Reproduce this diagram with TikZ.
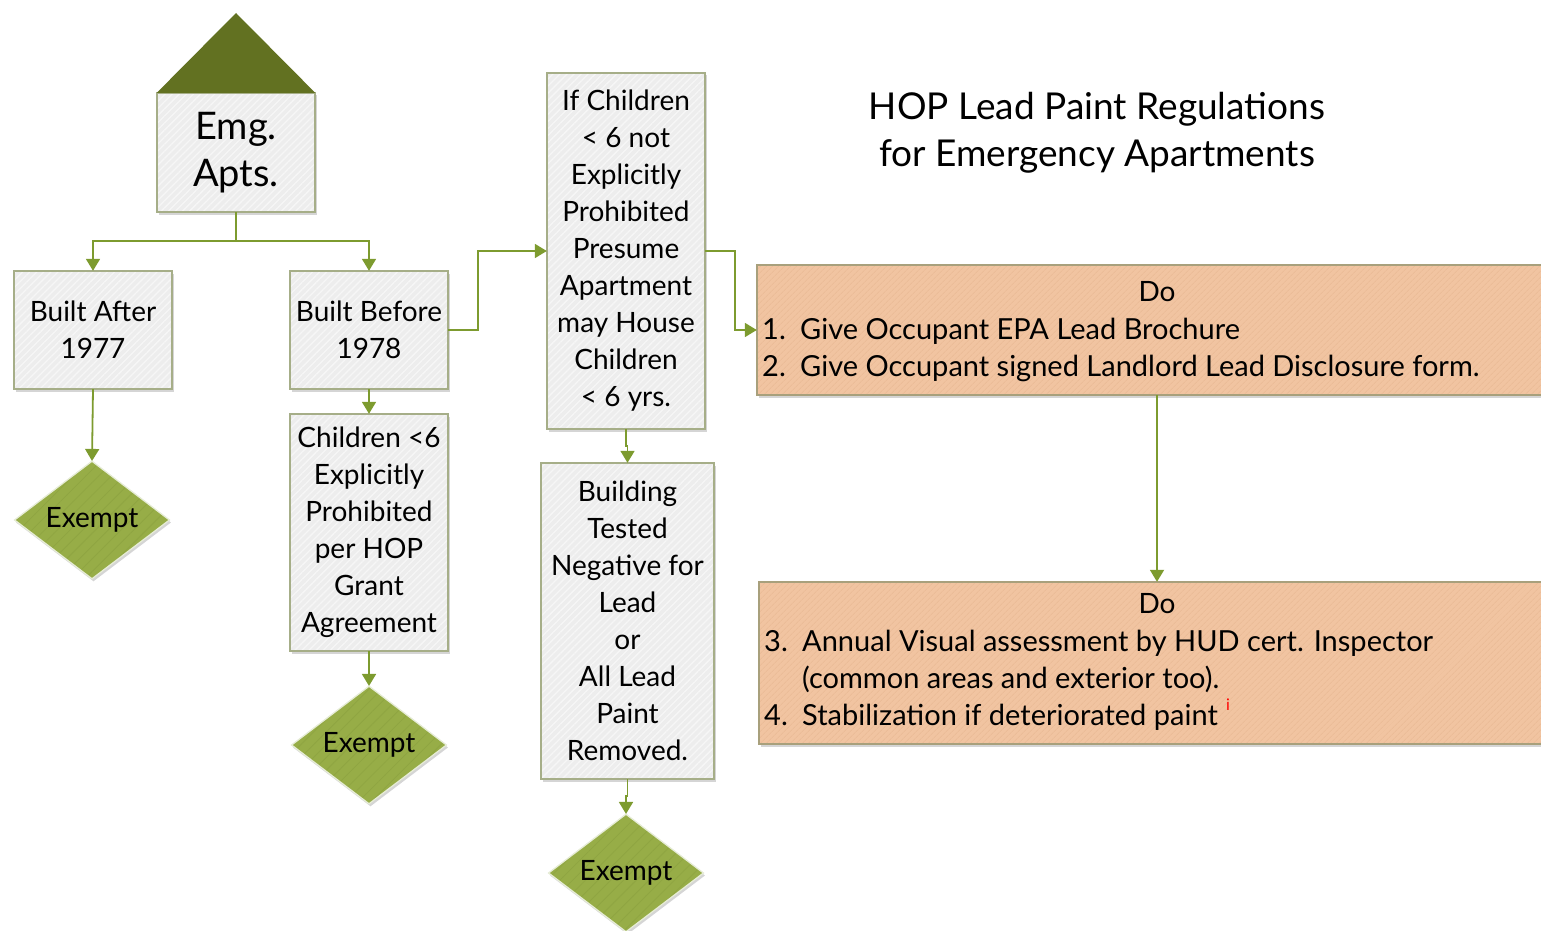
\documentclass[tikz,border=0pt]{standalone}
\usepackage{fontspec}
\setmainfont{Lato}
\usetikzlibrary{shapes.geometric,arrows.meta,shadows,patterns.meta}

\definecolor{roofgreen}{HTML}{627121}
\definecolor{boxgray}{HTML}{EDEDED}
\definecolor{boxstripe}{HTML}{F6F6F6}
\definecolor{boxedge}{HTML}{A6AE88}
\definecolor{linkgreen}{HTML}{7D9B2F}
\definecolor{leafgreen}{HTML}{97AD47}
\definecolor{leafstripe}{HTML}{8FA542}
\definecolor{leafedge}{HTML}{E6ECD6}
\definecolor{peach}{HTML}{F1C4A1}
\definecolor{peachstripe}{HTML}{EBBC98}
\definecolor{peachedge}{HTML}{A8A07C}

\begin{document}
\begin{tikzpicture}[x=1pt,y=-1pt,
  every node/.style={font=\fontsize{28}{37}\selectfont, text=black},
  softshadow/.style={drop shadow={shadow xshift=1.5pt, shadow yshift=-2.5pt, opacity=0.3, fill=black!55}},
  graybox/.style={fill=boxgray, inner sep=0pt, align=center, softshadow,
    postaction={pattern={Lines[angle=45,distance=5pt,line width=1.3pt]}, pattern color=boxstripe},
    postaction={draw=boxedge, line width=1.3pt}},
  dobox/.style={fill=peach, inner sep=0pt, softshadow,
    postaction={pattern={Lines[angle=45,distance=4pt,line width=1pt]}, pattern color=peachstripe},
    postaction={draw=peachedge, line width=1.3pt}},
  exempt/.style={diamond, fill=leafgreen, inner sep=0pt,
    minimum width=155pt, minimum height=116pt, softshadow,
    postaction={pattern={Lines[angle=45,distance=9pt,line width=0.8pt]}, pattern color=leafstripe},
    postaction={draw=leafedge, line width=1.3pt}},
  link/.style={draw=linkgreen, line width=1.8pt, -{Triangle[length=12pt,width=14pt]}, color=linkgreen},
  listtext/.style={anchor=base west, inner sep=0pt, font=\fontsize{29}{37}\selectfont},
]
\useasboundingbox (0,0) rectangle (1541,931);

% start: house-shaped node
\node[graybox, minimum width=158pt, minimum height=119pt, font=\fontsize{38}{47}\selectfont]
  (emg) at (236,152.5) {Emg.\\Apts.};
\fill[roofgreen] (emg.north west) -- (236,13) -- (emg.north east) -- cycle;

% first split
\node[graybox, minimum width=158pt, minimum height=118pt] (after) at (93,330) {Built After\\1977};
\node[graybox, minimum width=158pt, minimum height=118pt] (before) at (369,330) {Built Before\\1978};
\node[graybox, minimum width=158pt, minimum height=237pt] (children) at (369,532.5)
  {Children <6\\Explicitly\\Prohibited\\per HOP\\Grant\\Agreement};
\node[graybox, minimum width=158pt, minimum height=356pt] (ifch) at (626,251)
  {If Children\\< 6 not\\Explicitly\\Prohibited\\Presume\\Apartment\\may House\\Children\\< 6 yrs.};
\node[graybox, minimum width=173pt, minimum height=316pt] (build) at (627.5,621)
  {Building\\Tested\\Negative for\\Lead\\or\\All Lead\\Paint\\Removed.};

% exempt outcomes
\node[exempt] (ex1) at (92,520) {Exempt};
\node[exempt] (ex2) at (369,745) {Exempt};
\node[exempt] (ex3) at (626,873) {Exempt};

% required actions
\node[dobox, minimum width=800pt, minimum height=130pt] (do1) at (1157,330) {};
\node[dobox, minimum width=796pt, minimum height=162pt] (do2) at (1157,663) {};

\node (do1head) at (1157,292) {Do};
\node[listtext] (n1) at (762,339) {1.};
\node[listtext] (t1) at (800,339) {Give Occupant EPA Lead Brochure};
\node[listtext] (n2) at (762,376) {2.};
\node[listtext] (t2) at (800,376) {Give Occupant signed Landlord Lead Disclosure form.};

\node (do2head) at (1157,604) {Do};
\node[listtext] (n3) at (764,651) {3.};
\node[listtext] (t3) at (802,651) {Annual Visual assessment by HUD cert. Inspector};
\node[listtext] (t3b) at (802,688) {(common areas and exterior too).};
\node[listtext] (n4) at (764,725) {4.};
\node[listtext] (t4) at (802,725) {Stabilization if deteriorated paint};
\node[anchor=base west, inner sep=0pt, text=red, font=\fontsize{16}{16}\selectfont]
  (fn) at (t4.base east) [xshift=8pt, yshift=15pt] {i};

% title
\node[font=\fontsize{37}{47}\selectfont, align=center] (title) at (1097,133)
  {HOP Lead Paint Regulations\\for Emergency Apartments};

% connectors
\draw[link] (emg.south) -- ++(0,29) -| (after.north);
\draw[link] (emg.south) -- ++(0,29) -| (before.north);
\draw[link] (after.south) -- (ex1.north);
\draw[link] (before.south) -- (children.north);
\draw[link] (children.south) -- (ex2.north);
\draw[link] (before.east) -- ++(30,0) |- (ifch.west);
\draw[link] (ifch.east) -- ++(30,0) |- (do1.west);
\draw[link] (ifch.south) -- ++(0,17) -| (build.north);
\draw[link] (build.south) -- ++(0,17) -| (ex3.north);
\draw[link] (do1.south) -- (do2.north);
\end{tikzpicture}
\end{document}
